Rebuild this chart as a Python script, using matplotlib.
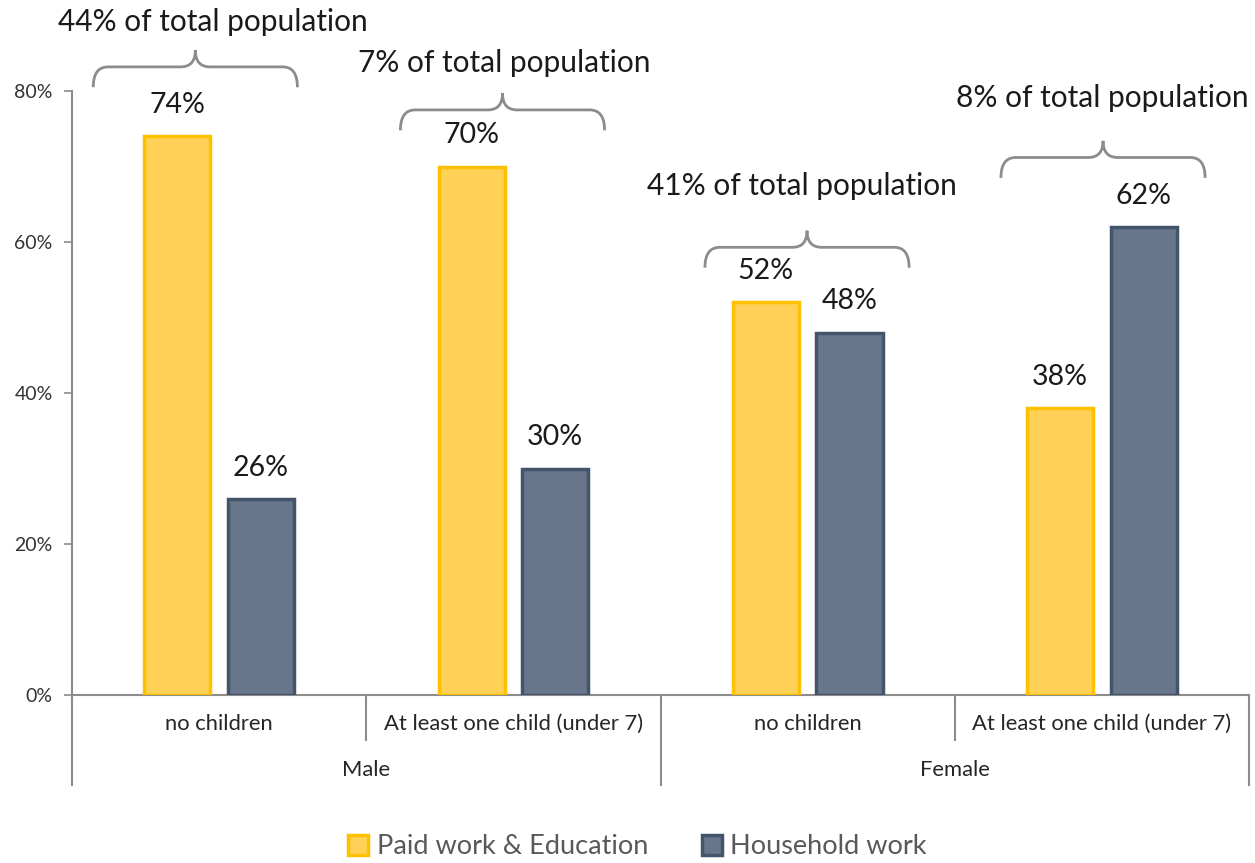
import numpy as np
import matplotlib.pyplot as plt
from matplotlib.patches import Patch
from matplotlib.path import Path
from matplotlib.patches import PathPatch

plt.rcParams['font.family'] = ['Lato', 'DejaVu Sans']

sub_labels = ['no children', 'At least one child (under 7)', 'no children', 'At least one child (under 7)']
group_labels = ['Male', 'Female']
paid_work = [74, 70, 52, 38]
household_work = [26, 30, 48, 62]
population_share = ['44% of total population', '7% of total population',
                    '41% of total population', '8% of total population']

yellow_fill, yellow_edge = '#FFD257', '#FFC000'
blue_fill, blue_edge = '#67768B', '#44546A'
grey = '#8C8C8C'

fig = plt.figure(figsize=(12.55, 8.63), dpi=100)
ax = fig.add_axes([0.0574, 0.1947, 0.9378, 0.6998])

x = np.arange(len(sub_labels))
w = 0.225
off = 0.142
ax.bar(x - off, paid_work, w, color=yellow_fill, edgecolor=yellow_edge, linewidth=2.5, zorder=3)
ax.bar(x + off, household_work, w, color=blue_fill, edgecolor=blue_edge, linewidth=2.5, zorder=3)

for i in range(len(x)):
    ax.text(x[i] - off, paid_work[i] + 2.4, f'{paid_work[i]}%', ha='center', va='bottom',
            fontsize=20.5, color='#1a1a1a')
    ax.text(x[i] + off, household_work[i] + 2.4, f'{household_work[i]}%', ha='center', va='bottom',
            fontsize=20.5, color='#1a1a1a')

ax.set_xlim(-0.5, 3.5)
ax.set_ylim(0, 80)
ax.set_yticks([0, 20, 40, 60, 80])
ax.set_yticklabels(['0%', '20%', '40%', '60%', '80%'], fontsize=14, color='#333333')
ax.set_xticks([])
ax.tick_params(axis='y', length=6, color=grey, width=1.2, pad=8)
for s in ['top', 'right']:
    ax.spines[s].set_visible(False)
for s in ['left', 'bottom']:
    ax.spines[s].set_color(grey)
    ax.spines[s].set_linewidth(1.5)

# two-level category axis
trans = ax.get_xaxis_transform()
for xs in [-0.5, 0.5, 1.5, 2.5, 3.5]:
    bottom = -0.149 if xs in (-0.5, 1.5, 3.5) else -0.0745
    ax.plot([xs, xs], [0, bottom], transform=trans, color=grey, lw=1.5, clip_on=False)
for i, lab in enumerate(sub_labels):
    ax.text(x[i], -0.048, lab, transform=trans, ha='center', va='center', fontsize=15.8, color='#262626')
for j, lab in enumerate(group_labels):
    ax.text(0.5 + 2 * j, -0.124, lab, transform=trans, ha='center', va='center', fontsize=15.8, color='#262626')

# braces with population share
brace_center = [-0.081, 0.963, 1.998, 3.004]
brace_base = [80.5, 74.8, 56.6, 68.5]
text_x = [-0.02, 0.968, 1.98, 3.0]
text_y = [89.1, 83.7, 67.4, 79.1]
half = 0.347
rise, tip = 2.7, 2.2
for c, b, tx, ty, lab in zip(brace_center, brace_base, text_x, text_y, population_share):
    l, r = c - half, c + half
    h = b + rise
    k = 0.05
    verts = [(l, b), (l, h), (l + k, h), (c - k, h), (c, h), (c, h + tip),
             (c, h + tip), (c, h), (c + k, h), (r - k, h), (r, h), (r, b)]
    codes = [Path.MOVETO, Path.CURVE3, Path.CURVE3, Path.LINETO, Path.CURVE3, Path.CURVE3,
             Path.MOVETO, Path.CURVE3, Path.CURVE3, Path.LINETO, Path.CURVE3, Path.CURVE3]
    ax.add_patch(PathPatch(Path(verts, codes), fill=False, edgecolor=grey, lw=2, clip_on=False))
    ax.text(tx, ty, lab, ha='center', va='center', fontsize=21.5, color='#1a1a1a', clip_on=False)

handles = [Patch(facecolor=yellow_fill, edgecolor=yellow_edge, linewidth=2.5, label='Paid work & Education'),
           Patch(facecolor=blue_fill, edgecolor=blue_edge, linewidth=2.5, label='Household work')]
fig.legend(handles=handles, loc='center', bbox_to_anchor=(0.508, 0.019), ncol=2, frameon=False,
           fontsize=19.5, labelcolor='#595959', handlelength=0.75, handleheight=0.75,
           handletextpad=0.3, columnspacing=2.0)

fig.savefig('out.png', dpi=100)
